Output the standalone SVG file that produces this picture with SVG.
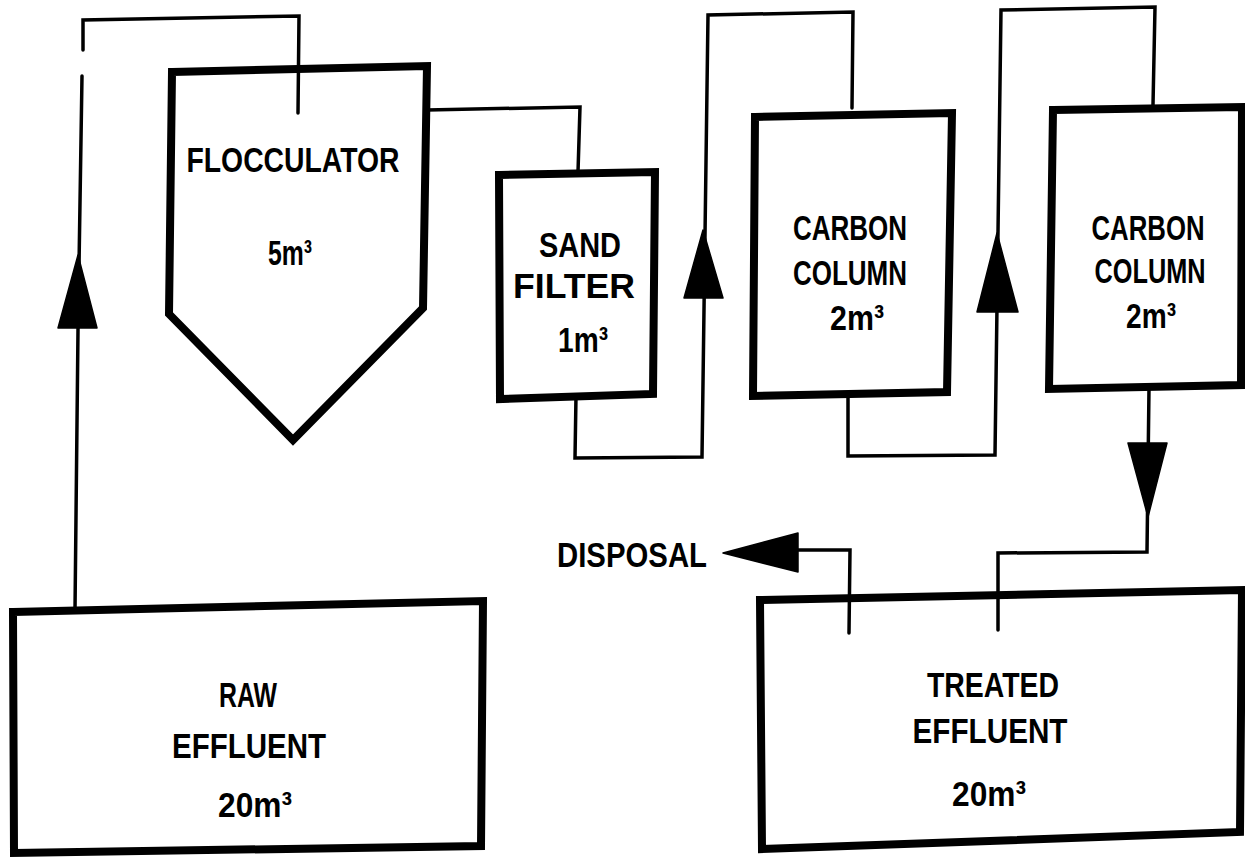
<svg xmlns="http://www.w3.org/2000/svg" width="1245" height="858" viewBox="0 0 1245 858">
<style>
.box{fill:none;stroke:#000;stroke-width:8;stroke-linejoin:miter}
.ln{fill:none;stroke:#000;stroke-width:3.5;stroke-linejoin:miter;stroke-linecap:round}
.ah{fill:#000;stroke:#000;stroke-width:1.5;stroke-linejoin:round}
.t{font-family:"Liberation Sans Narrow","Liberation Sans",Arial,sans-serif;font-weight:bold;font-size:35px;fill:#000;text-anchor:middle}
</style>
<rect width="1245" height="858" fill="#fff"/>
<g id="connectors">
<path class="ln" d="M75,610 L78,330 L82,76 M83,50 L83,20 L299,16 L298,113"/>
<polygon class="ah" points="78,255 97,328 58,328"/>
<path class="ln" d="M427,110 L580,107 L578,172"/>
<path class="ln" d="M576,396 L575,458 L702,457 L708,15 L853,12 L852,108"/>
<polygon class="ah" points="703,230 723,298 684,298"/>
<path class="ln" d="M848,394 L848,456 L995,455 L1001,10 L1155,7 L1153,105"/>
<polygon class="ah" points="997,233 1018,312 977,312"/>
<path class="ln" d="M1149,388 L1147,552 L998,553 L998,630"/>
<polygon class="ah" points="1128,443 1167,443 1148,517"/>
<path class="ln" d="M849,633 L850,550 L797,550"/>
<polygon class="ah" points="723,553 798,533 798,572"/>
</g>
<g id="flocculator">
<polygon class="box" points="172,72 427,66 423,308 293,440 169,314"/>
<text class="t" x="293" y="172" textLength="213" lengthAdjust="spacingAndGlyphs">FLOCCULATOR</text>
<text class="t" x="290" y="265" textLength="44" lengthAdjust="spacingAndGlyphs">5m³</text>
</g>
<g id="sand-filter">
<polygon class="box" points="499,175 655,172 653,394 500,399"/>
<text class="t" x="580" y="257" textLength="82" lengthAdjust="spacingAndGlyphs">SAND</text>
<text class="t" x="574" y="298" textLength="122" lengthAdjust="spacingAndGlyphs">FILTER</text>
<text class="t" x="583" y="352" textLength="50" lengthAdjust="spacingAndGlyphs">1m³</text>
</g>
<g id="carbon-column-1">
<polygon class="box" points="755,117 952,113 947,392 753,396"/>
<text class="t" x="850" y="240" textLength="114" lengthAdjust="spacingAndGlyphs">CARBON</text>
<text class="t" x="850" y="285" textLength="114" lengthAdjust="spacingAndGlyphs">COLUMN</text>
<text class="t" x="857" y="330" textLength="54" lengthAdjust="spacingAndGlyphs">2m³</text>
</g>
<g id="carbon-column-2">
<polygon class="box" points="1053,110 1242,107 1241,385 1049,389"/>
<text class="t" x="1148" y="240" textLength="113" lengthAdjust="spacingAndGlyphs">CARBON</text>
<text class="t" x="1150" y="283" textLength="111" lengthAdjust="spacingAndGlyphs">COLUMN</text>
<text class="t" x="1151" y="328" textLength="50" lengthAdjust="spacingAndGlyphs">2m³</text>
</g>
<g id="raw-effluent">
<polygon class="box" points="13,612 483,601 481,846 14,853"/>
<text class="t" x="248" y="707" textLength="58" lengthAdjust="spacingAndGlyphs">RAW</text>
<text class="t" x="249" y="758" textLength="154" lengthAdjust="spacingAndGlyphs">EFFLUENT</text>
<text class="t" x="255" y="817" textLength="74" lengthAdjust="spacingAndGlyphs">20m³</text>
</g>
<g id="treated-effluent">
<polygon class="box" points="760,600 1242,590 1240,832 762,849"/>
<text class="t" x="993" y="697" textLength="132" lengthAdjust="spacingAndGlyphs">TREATED</text>
<text class="t" x="990" y="743" textLength="155" lengthAdjust="spacingAndGlyphs">EFFLUENT</text>
<text class="t" x="989" y="806" textLength="74" lengthAdjust="spacingAndGlyphs">20m³</text>
</g>
<g id="disposal">
<text class="t" x="632" y="567" textLength="150" lengthAdjust="spacingAndGlyphs">DISPOSAL</text>
</g>
</svg>
